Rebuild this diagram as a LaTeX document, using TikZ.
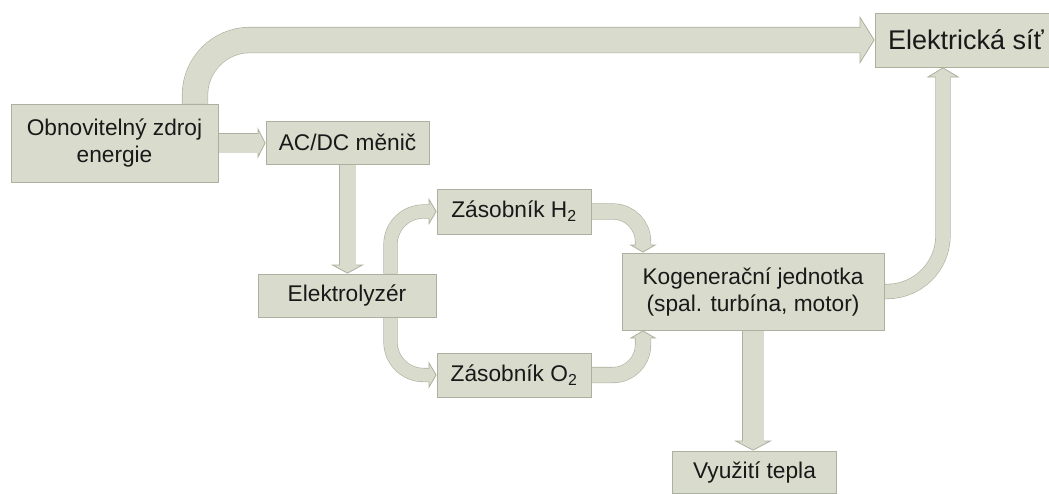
\documentclass[tikz,border=0pt]{standalone}
\usepackage{fontspec}
\setmainfont{Liberation Sans}
\usetikzlibrary{arrows.meta}
\definecolor{boxfill}{RGB}{217,219,204}
\definecolor{bordc}{RGB}{172,176,158}
\definecolor{txtc}{RGB}{25,25,25}
\pgfdeclarelayer{background}
\pgfsetlayers{background,main}
% #1 shaft width, #2 head length, #3 head width, #4 corner radius, #5 path
\newcommand\myblockarrow[5]{%
  \draw[bordc, line width=#1pt+1.2pt, rounded corners=#4pt,
        -{Triangle[length=#2pt, width=#3pt, fill=boxfill, line width=0.8pt]}] #5;
  \draw[boxfill, line width=#1pt, rounded corners=#4pt, shorten >=#2pt-1.6pt] #5;
}
\tikzset{
  box/.style={draw=bordc, fill=boxfill, line width=0.8pt, inner sep=0pt,
    align=center, text=txtc, font=\fontsize{22.7pt}{27pt}\selectfont},
}
\begin{document}
\begin{tikzpicture}[x=1pt, y=-1pt]
\useasboundingbox (0,0) rectangle (1049,493);
\node[box, minimum width=207pt, minimum height=78pt] (zdroj) at (114.5,143) {Obnovitelný zdroj\\energie};
\node[box, minimum width=163pt, minimum height=43pt] (acdc) at (347.5,142.5) {AC/DC měnič};
\node[box, minimum width=182pt, minimum height=54pt, font=\fontsize{27pt}{32pt}\selectfont] (sit) at (966,40) {Elektrická síť};
\node[box, minimum width=178pt, minimum height=43pt] (elektro) at (347,295.5) {Elektrolyzér};
\node[box, minimum width=154pt, minimum height=45pt] (h2) at (514,211.5) {Zásobník H\textsubscript{2}};
\node[box, minimum width=154pt, minimum height=44pt] (o2) at (514,375) {Zásobník O\textsubscript{2}};
\node[box, minimum width=262pt, minimum height=77pt] (kogen) at (753,291.5) {Kogenerační jednotka\\(spal. turbína, motor)};
\node[box, minimum width=164pt, minimum height=42pt] (teplo) at (754.5,472) {Využití tepla};
\begin{pgfonlayer}{background}
\myblockarrow{25}{15}{48}{55}{([xshift=80.5pt]zdroj.north) |- (sit.west)}
\myblockarrow{19}{8}{31}{1}{(zdroj.east) -- (zdroj.east -| acdc.west)}
\myblockarrow{16}{9}{33}{1}{(acdc.south) -- (acdc.south |- elektro.north)}
\myblockarrow{13}{8}{27}{33}{([xshift=43.5pt]elektro.north) |- (h2.west)}
\myblockarrow{13}{8}{27}{33}{([xshift=43.5pt]elektro.south) |- (o2.west)}
\myblockarrow{15}{8}{27}{30}{(h2.east) -| ([xshift=-110pt]kogen.north)}
\myblockarrow{15}{8}{27}{30}{(o2.east) -| ([xshift=-110pt]kogen.south)}
\myblockarrow{14}{10}{33}{56}{(kogen.east) -| ([xshift=-23pt]sit.south)}
\myblockarrow{21}{10}{38}{1}{(kogen.south) -- (kogen.south |- teplo.north)}
\end{pgfonlayer}
\end{tikzpicture}
\end{document}
